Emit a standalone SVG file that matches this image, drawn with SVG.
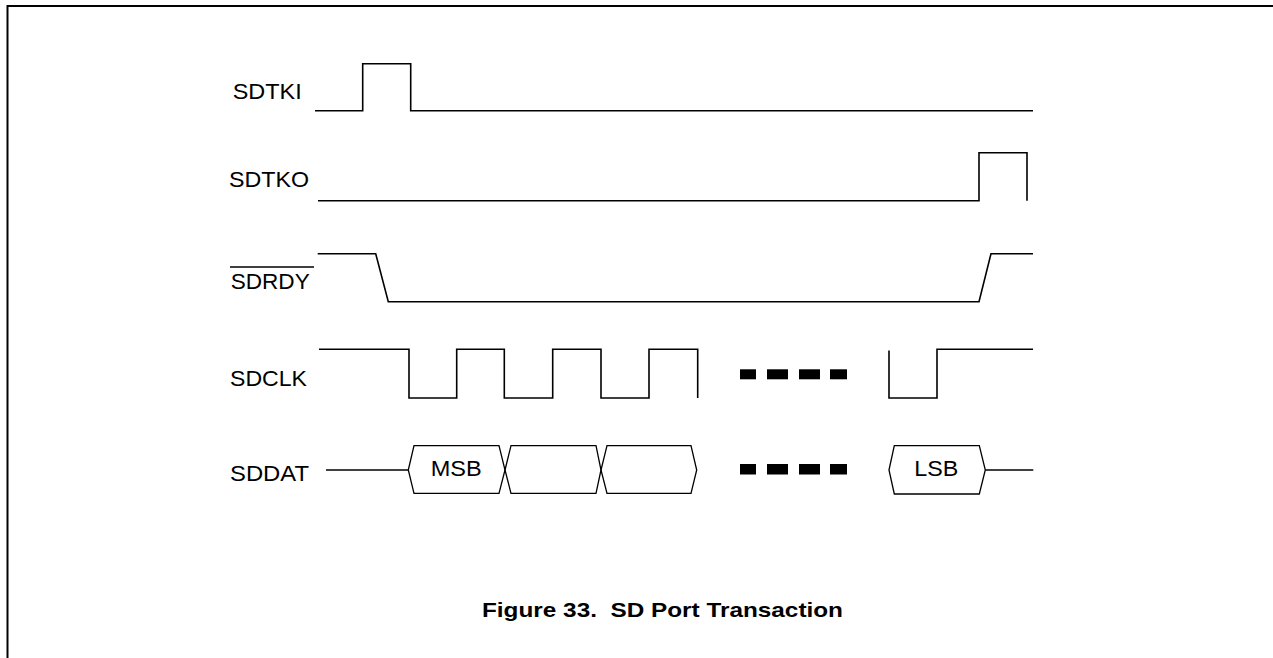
<svg xmlns="http://www.w3.org/2000/svg" width="1273" height="658" viewBox="0 0 1273 658">
<style>
.bg{fill:#fff}
.frame{fill:none;stroke:#000;stroke-width:2}
.wave{fill:none;stroke:#000;stroke-width:1.6;stroke-linejoin:miter;stroke-linecap:butt}
.cell{fill:none;stroke:#000;stroke-width:1.3}
.dash{fill:#000}
.lbl{font-family:"Liberation Sans",Arial,sans-serif;font-size:21.5px;fill:#000}
.title{font-family:"Liberation Sans Narrow","Liberation Sans",Arial,sans-serif;font-size:20.5px;font-weight:bold;fill:#000;white-space:pre}
</style>
<rect class="bg" x="0" y="0" width="1273" height="658"/>
<path class="frame" d="M7.5,658 V6 H1273"/>
<g id="labels">
<g id="SDTKI-label"><text class="lbl" x="232.7" y="99" textLength="69" lengthAdjust="spacingAndGlyphs">SDTKI</text></g>
<g id="SDTKO-label"><text class="lbl" x="229" y="187.3" textLength="80" lengthAdjust="spacingAndGlyphs">SDTKO</text></g>
<g id="SDRDY-label"><text class="lbl" x="230.7" y="289.3" textLength="79" lengthAdjust="spacingAndGlyphs">SDRDY</text><line x1="230" y1="267" x2="314" y2="267" stroke="#000" stroke-width="1.4"/></g>
<g id="SDCLK-label"><text class="lbl" x="230" y="385.7" textLength="77" lengthAdjust="spacingAndGlyphs">SDCLK</text></g>
<g id="SDDAT-label"><text class="lbl" x="230" y="480.7" textLength="79" lengthAdjust="spacingAndGlyphs">SDDAT</text></g>
</g>
<g id="waveforms">
<g id="SDTKI"><path class="wave" d="M315,110.7 H362.7 V63.7 H410.7 V110.7 H1033"/></g>
<g id="SDTKO"><path class="wave" d="M318,200.7 H979 V152.7 H1027 V200.7"/></g>
<g id="SDRDY"><path class="wave" d="M317.7,253.7 H375.7 L388.3,301.7 H979 L991,253.7 H1033"/></g>
<g id="SDCLK">
<path class="wave" d="M319,349.3 H409 V398 H456.7 V349.3 H504.3 V398 H552.7 V349.3 H601 V398 H649 V349.3 H697.7 V398"/>
<rect class="dash" x="740" y="369.3" width="16" height="10"/>
<rect class="dash" x="767" y="369.3" width="21" height="10"/>
<rect class="dash" x="799" y="369.3" width="21" height="10"/>
<rect class="dash" x="830" y="369.3" width="17" height="10"/>
<path class="wave" d="M889,350.5 V398 H937 V349.3 H1033"/>
</g>
<g id="SDDAT">
<path class="cell" d="M326,470 H408.3"/>
<polygon class="cell" points="408.3,470 414,445.7 499,445.7 505,470 499,493.3 414,493.3"/>
<polygon class="cell" points="505,470 511,445.7 596,445.7 601,470 596,493.3 511,493.3"/>
<polygon class="cell" points="601,470 607,445.7 691,445.7 696.7,470 691,493.3 607,493.3"/>
<text class="lbl" x="430.7" y="476" textLength="51" lengthAdjust="spacingAndGlyphs">MSB</text>
<rect class="dash" x="740" y="464" width="16" height="10.5"/>
<rect class="dash" x="767" y="464" width="21" height="10.5"/>
<rect class="dash" x="799" y="464" width="21" height="10.5"/>
<rect class="dash" x="830" y="464" width="17" height="10.5"/>
<polygon class="cell" points="889,470 894.3,445.7 979.3,445.7 985.3,470 979.3,494 894.3,494"/>
<text class="lbl" x="914.3" y="476" textLength="44" lengthAdjust="spacingAndGlyphs">LSB</text>
<path class="cell" d="M985.3,470 H1033.3"/>
</g>
</g>
<g id="caption"><text class="title" x="482" y="617" textLength="361" lengthAdjust="spacingAndGlyphs">Figure 33.  SD Port Transaction</text></g>
</svg>
